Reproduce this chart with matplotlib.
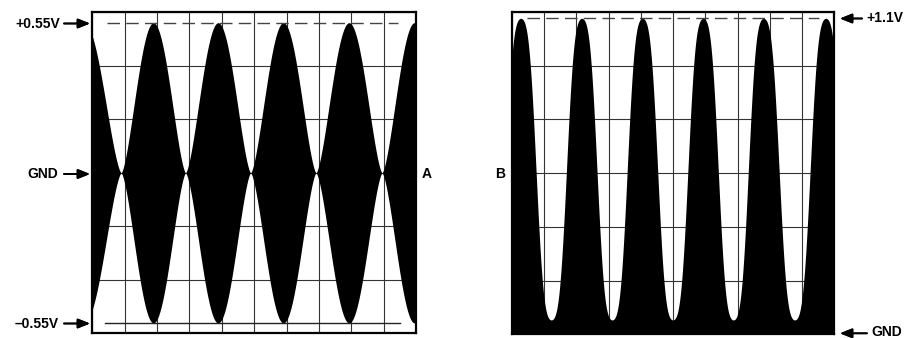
import numpy as np
import matplotlib
matplotlib.use('Agg')
import matplotlib.pyplot as plt
from matplotlib.patches import ArrowStyle

W, H = 912, 338

# Trace A: two-tone burst, envelope pinches to GND at these points (in divisions)
a_nulls = [-1.4, 0.89, 2.88, 4.89, 6.91, 8.95, 10.95]
a_peak_v = 0.55
a_volts_per_div = 0.196

# Trace B: detected output, peak positions (divisions) and levels (volts)
b_peaks = [0.28, 2.17, 4.05, 5.93, 7.80, 9.73]
b_high_v = 1.1
b_low_v = 0.05
b_volts_per_div = 0.187

# labels
a_labels = ['+0.55V', 'GND', '\u20130.55V']
b_labels = ['+1.1V', 'GND']

plt.rcParams['font.family'] = ['Liberation Sans', 'DejaVu Sans']

fig = plt.figure(figsize=(W / 100, H / 100), dpi=100)


def px_axes(x0, y0, x1, y1):
    # pixel box (top-left origin) -> axes
    return fig.add_axes([x0 / W, 1 - y1 / H, (x1 - x0) / W, (y1 - y0) / H])


def scope_frame(ax, ylo, yhi):
    ax.set_xlim(0, 10)
    ax.set_ylim(ylo, yhi)
    ax.set_xticks(np.arange(0, 11))
    ax.set_yticks(np.linspace(ylo, yhi, 7))
    ax.tick_params(length=0, labelbottom=False, labelleft=False)
    ax.set_axisbelow(True)
    ax.grid(True, color='#333333', lw=0.8)
    for s in ax.spines.values():
        s.set_linewidth(1.6)
        s.set_color('black')
        s.set_zorder(5)


# ---- left panel (A)
axA = px_axes(92.3, 12.3, 416, 333.3)
scope_frame(axA, -3 * a_volts_per_div, 3 * a_volts_per_div)

x = np.linspace(0, 10, 4001)
env = np.zeros_like(x)
for n0, n1 in zip(a_nulls[:-1], a_nulls[1:]):
    m = (x >= n0) & (x <= n1)
    env[m] = a_peak_v * np.sin(np.pi * (x[m] - n0) / (n1 - n0)) ** 1.5
axA.fill_between(x, -env, env, color='black', lw=0, zorder=2)

axA.plot([0.45, 9.45], [a_peak_v, a_peak_v], color='#444444', lw=1.0,
         ls=(0, (9, 4.5)), zorder=3)
axA.plot([0.4, 9.5], [-a_peak_v, -a_peak_v], color='#222222', lw=1.0, zorder=3)

# ---- right panel (B)
axB = px_axes(511.7, 12, 834.5, 334.3)
scope_frame(axB, 0, 6 * b_volts_per_div)

period = np.mean(np.diff(b_peaks))
pk = [b_peaks[0] - period] + b_peaks + [b_peaks[-1] + period]
theta = np.zeros_like(x)
for p0, p1 in zip(pk[:-1], pk[1:]):
    m = (x >= p0) & (x <= p1)
    theta[m] = 2 * np.pi * (x[m] - p0) / (p1 - p0)
k = -0.08
shape = (np.cos(theta) + k * np.cos(3 * theta)) / (1 + k)
mid = (b_high_v + b_low_v) / 2
half = (b_high_v - b_low_v) / 2
vb = mid + half * shape
axB.fill_between(x, 0, vb, color='black', lw=0, zorder=2)

axB.plot([0.46, 9.53], [b_high_v, b_high_v], color='#444444', lw=1.0,
         ls=(0, (9, 4.5)), zorder=3)

# ---- labels and arrows
style = ArrowStyle('-|>', head_length=0.45, head_width=0.18)


def arrow(x0, x1, y):
    fig.add_artist(plt.annotate('', xy=(x1, H - y), xytext=(x0, H - y),
                                xycoords='figure pixels', textcoords='figure pixels',
                                arrowprops=dict(arrowstyle=style, color='black', lw=1.3,
                                                mutation_scale=16, shrinkA=0, shrinkB=0)))


def label(x, y, s, ha):
    fig.text(x / W, 1 - y / H, s, ha=ha, va='baseline', fontsize=10,
             fontweight='bold')


label(60, 28.3, a_labels[0], 'right')
arrow(64, 90, 23.5)
label(58.5, 178.3, a_labels[1], 'right')
arrow(64, 90, 174)
label(58.5, 328.3, a_labels[2], 'right')
arrow(64, 90, 323.5)

label(421.5, 178.3, 'A', 'left')
label(495, 178.3, 'B', 'left')

arrow(862, 840, 18.5)
label(866.5, 22.5, b_labels[0], 'left')
arrow(867, 840, 333.3)
label(871.5, 336.5, b_labels[1], 'left')

fig.savefig('out.png', dpi=100)
